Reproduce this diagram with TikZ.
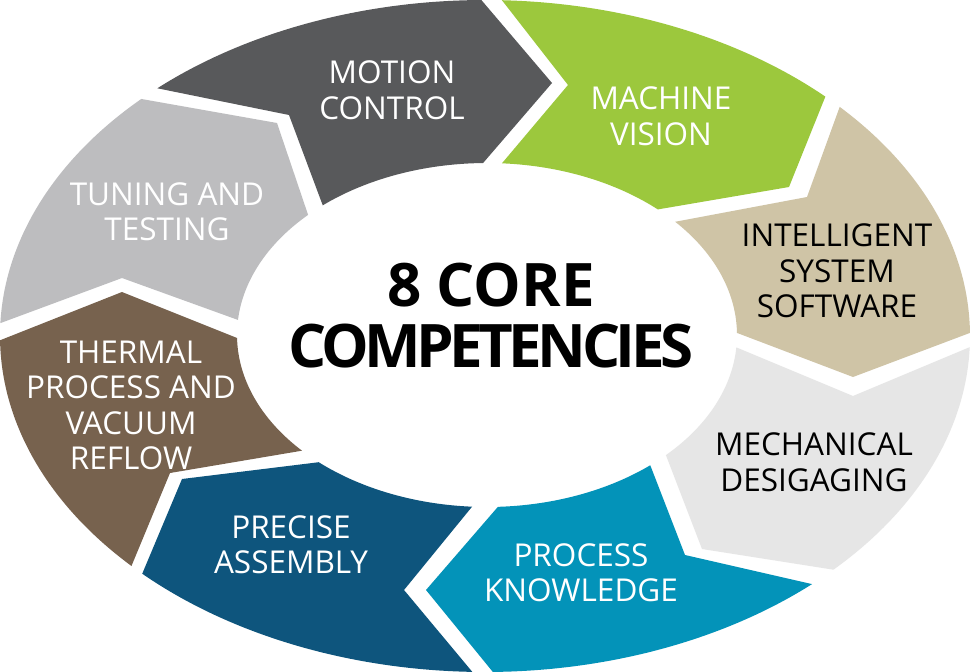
\documentclass[tikz,border=0pt]{standalone}
\usepackage{fontspec}
\setmainfont{Open Sans}
\newfontfamily\tighttitle[LetterSpace=-7.5]{Open Sans}

\definecolor{motiongray}{HTML}{58595B}
\definecolor{visiongreen}{HTML}{9CC83D}
\definecolor{softwarebeige}{HTML}{CFC4A6}
\definecolor{mechgray}{HTML}{E6E6E6}
\definecolor{processteal}{HTML}{0393B9}
\definecolor{assemblyblue}{HTML}{0E557D}
\definecolor{thermalbrown}{HTML}{77624E}
\definecolor{tuninggray}{HTML}{BDBDBF}

% One arrow-shaped piece of the ring.
% #1,#2 outer start/end angle; #3 tip point; #4,#5 inner end/start angle;
% #6 notch point; #7 fill colour
\newcommand{\ringseg}[7]{%
  \fill[#7]
    plot[domain=0:1, samples=60, variable=\t]
      ({485+485*cos(#1+(#2-#1)*\t)},{336+336*sin(#1+(#2-#1)*\t)})
    -- #3
    -- plot[domain=0:1, samples=60, variable=\t]
      ({487+250*cos(#4+(#5-#4)*\t)},{335+172*sin(#4+(#5-#4)*\t)})
    -- #6 -- cycle;%
}

\begin{document}
\begin{tikzpicture}[x=1pt, y=-1pt,
  lbl/.style={align=center, inner sep=0pt, font=\fontsize{31.5}{35.5}\selectfont},
  lightlbl/.style={lbl, text=white},
  darklbl/.style={lbl, text=black},
  title/.style={align=center, inner sep=0pt, text=black,
    font=\bfseries\fontsize{60}{61}\selectfont}]

  \fill[white] (0,0) rectangle (970,672);
  \useasboundingbox (0,0) rectangle (970,672);

  % ring pieces, clockwise from the top left
  \ringseg{227.5}{269.6}{(552,83)}{269.1}{228.9}{(289,115)}{motiongray}
  \ringseg{272.0}{314.6}{(789,187)}{313.1}{273.4}{(568,85)}{visiongreen}
  \ringseg{317.0}{359.5}{(853,377)}{359.3}{318.8}{(807,197)}{softwarebeige}
  \ringseg{361.9}{404.1}{(702,549)}{404.3}{364.1}{(853,396)}{mechgray}
  \ringseg{47.6}{89.1}{(426,590)}{87.5}{49.2}{(685,555)}{processteal}
  \ringseg{91.5}{135.0}{(182,479)}{132.3}{93.4}{(404,590)}{assemblyblue}
  \ringseg{136.8}{179.3}{(122,292)}{179.0}{137.7}{(170,473)}{thermalbrown}
  \ringseg{182.2}{224.9}{(277,123)}{224.3}{185.0}{(122,278)}{tuninggray}

  % labels
  \node[lightlbl] (motion) at (392,90) {MOTION\\CONTROL};
  \node[lightlbl] (vision) at (661,116) {MACHINE\\VISION};
  \node[darklbl] (software) at (837,271) {INTELLIGENT\\SYSTEM\\SOFTWARE};
  \node[darklbl] (mechanical) at (814,462) {MECHANICAL\\DESIGAGING};
  \node[lightlbl] (process) at (581,572.5) {PROCESS\\KNOWLEDGE};
  \node[lightlbl] (assembly) at (291,544.5) {PRECISE\\ASSEMBLY};
  \node[lightlbl] (thermal) at (131,405.5) {THERMAL\\PROCESS AND\\VACUUM\\REFLOW};
  \node[lightlbl] (tuning) at (167,211.5) {TUNING AND\\TESTING};

  \node[title] (core) at (491,316) {8 CORE\\{\tighttitle\bfseries COMPETENCIES}};
\end{tikzpicture}
\end{document}
